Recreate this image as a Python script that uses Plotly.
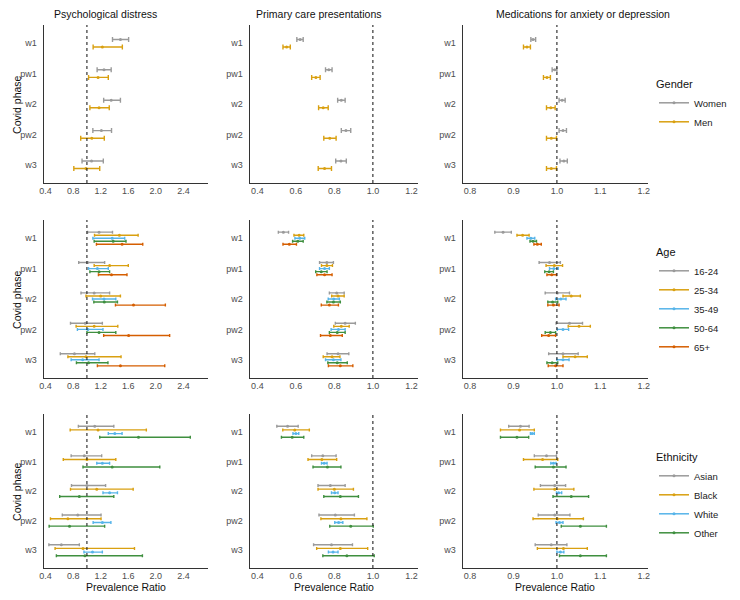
import plotly.graph_objects as go

# ---------------- data ----------------
PHASES = ["w1", "pw1", "w2", "pw2", "w3"]
GENDER = ["Women", "Men"]
AGE = ["16-24", "25-34", "35-49", "50-64", "65+"]
ETHNICITY = ["Asian", "Black", "White", "Other"]
OUTCOMES = ["Psychological distress", "Primary care presentations", "Medications for anxiety or depression"]
X_TICKS = [[0.4, 0.8, 1.2, 1.6, 2.0, 2.4], [0.4, 0.6, 0.8, 1.0, 1.2], [0.8, 0.9, 1.0, 1.1, 1.2]]

# Psychological distress – gender
psych_gender_est = {"Women": [1.486, 1.248, 1.352, 1.21, 1.067], "Men": [1.224, 1.162, 1.176, 1.071, 0.986]}
psych_gender_lo = {"Women": [1.371, 1.148, 1.243, 1.086, 0.929], "Men": [1.09, 1.024, 1.043, 0.91, 0.81]}
psych_gender_hi = {"Women": [1.605, 1.352, 1.486, 1.357, 1.238], "Men": [1.514, 1.31, 1.324, 1.252, 1.186]}
# Primary care – gender
prim_gender_est = {"Women": [0.622, 0.771, 0.836, 0.86, 0.834], "Men": [0.552, 0.704, 0.742, 0.776, 0.749]}
prim_gender_lo = {"Women": [0.605, 0.754, 0.817, 0.836, 0.807], "Men": [0.533, 0.682, 0.718, 0.745, 0.716]}
prim_gender_hi = {"Women": [0.638, 0.788, 0.856, 0.885, 0.862], "Men": [0.571, 0.726, 0.768, 0.809, 0.785]}
# Medications – gender
med_gender_est = {"Women": [0.945, 0.995, 1.012, 1.014, 1.016], "Men": [0.931, 0.977, 0.986, 0.987, 0.987]}
med_gender_lo = {"Women": [0.940, 0.989, 1.005, 1.005, 1.007], "Men": [0.923, 0.969, 0.976, 0.976, 0.976]}
med_gender_hi = {"Women": [0.951, 1.0, 1.019, 1.022, 1.024], "Men": [0.939, 0.985, 0.996, 0.999, 0.999]}

# Psychological distress – age
psych_age_est = {"16-24": [1.176, 1.01, 1.105, 0.976, 0.819], "25-34": [1.471, 1.329, 1.2, 1.105, 0.986],
                 "35-49": [1.367, 1.152, 1.248, 1.014, 0.938], "50-64": [1.381, 1.176, 1.252, 1.176, 1.024],
                 "65+": [1.51, 1.357, 1.676, 1.605, 1.486]}
psych_age_lo = {"16-24": [1.01, 0.881, 0.914, 0.762, 0.614], "25-34": [1.11, 1.105, 0.986, 0.843, 0.724],
                "35-49": [1.086, 1.024, 1.081, 0.862, 0.771], "50-64": [1.105, 1.043, 1.1, 1.0, 0.848],
                "65+": [1.138, 1.167, 1.414, 1.243, 1.152]}
psych_age_hi = {"16-24": [1.371, 1.257, 1.329, 1.224, 1.114], "25-34": [1.743, 1.6, 1.486, 1.448, 1.495],
                "35-49": [1.548, 1.31, 1.419, 1.233, 1.176], "50-64": [1.567, 1.329, 1.443, 1.419, 1.305],
                "65+": [1.81, 1.581, 2.138, 2.2, 2.129]}
# Primary care – age
prim_age_est = {"16-24": [0.535, 0.761, 0.812, 0.856, 0.819], "25-34": [0.617, 0.761, 0.819, 0.836, 0.788],
                "35-49": [0.62, 0.749, 0.797, 0.821, 0.795], "50-64": [0.61, 0.732, 0.795, 0.815, 0.815],
                "65+": [0.566, 0.749, 0.774, 0.779, 0.831]}
prim_age_lo = {"16-24": [0.509, 0.723, 0.774, 0.805, 0.762], "25-34": [0.59, 0.733, 0.786, 0.797, 0.742],
               "35-49": [0.595, 0.723, 0.768, 0.783, 0.754], "50-64": [0.583, 0.703, 0.761, 0.774, 0.766],
               "65+": [0.533, 0.709, 0.732, 0.728, 0.769]}
prim_age_hi = {"16-24": [0.562, 0.795, 0.851, 0.909, 0.875], "25-34": [0.641, 0.79, 0.851, 0.877, 0.829],
               "35-49": [0.646, 0.774, 0.826, 0.856, 0.834], "50-64": [0.638, 0.762, 0.831, 0.856, 0.867],
               "65+": [0.603, 0.788, 0.821, 0.841, 0.896]}
# Medications – age
med_age_est = {"16-24": [0.876, 0.983, 1.001, 1.029, 1.014], "25-34": [0.921, 0.994, 1.033, 1.051, 1.042],
               "35-49": [0.94, 0.993, 1.009, 1.014, 1.014], "50-64": [0.945, 0.982, 0.99, 0.985, 0.989],
               "65+": [0.955, 0.988, 0.992, 0.981, 0.997]}
med_age_lo = {"16-24": [0.857, 0.959, 0.973, 0.998, 0.981], "25-34": [0.908, 0.975, 1.014, 1.026, 1.014],
              "35-49": [0.931, 0.983, 0.997, 1.001, 1.0], "50-64": [0.938, 0.972, 0.979, 0.973, 0.977],
              "65+": [0.947, 0.977, 0.979, 0.965, 0.98]}
med_age_hi = {"16-24": [0.895, 1.008, 1.029, 1.059, 1.049], "25-34": [0.936, 1.013, 1.054, 1.077, 1.07],
              "35-49": [0.949, 1.003, 1.021, 1.027, 1.028], "50-64": [0.953, 0.992, 1.002, 0.997, 1.002],
              "65+": [0.964, 0.999, 1.005, 0.997, 1.014]}

# Psychological distress – ethnicity
psych_eth_est = {"Asian": [1.114, 0.962, 1.0, 0.867, 0.629], "Black": [1.162, 1.0, 1.143, 0.724, 0.943],
                 "White": [1.405, 1.224, 1.329, 1.224, 1.081], "Other": [1.748, 1.367, 0.89, 0.748, 0.971]}
psych_eth_lo = {"Asian": [0.876, 0.771, 0.776, 0.643, 0.448], "Black": [0.757, 0.657, 0.762, 0.471, 0.538],
                "White": [1.31, 1.143, 1.233, 1.09, 0.957], "Other": [1.186, 0.943, 0.605, 0.452, 0.557]}
psych_eth_hi = {"Asian": [1.39, 1.214, 1.271, 1.205, 0.89], "Black": [1.862, 1.419, 1.671, 1.205, 1.69],
                "White": [1.51, 1.329, 1.443, 1.348, 1.224], "Other": [2.5, 2.057, 1.39, 1.257, 1.805]}
# Primary care – ethnicity
prim_eth_est = {"Asian": [0.557, 0.74, 0.779, 0.805, 0.785], "Black": [0.594, 0.735, 0.8, 0.834, 0.831],
                "White": [0.6, 0.747, 0.802, 0.822, 0.793], "Other": [0.581, 0.764, 0.831, 0.885, 0.865]}
prim_eth_lo = {"Asian": [0.501, 0.682, 0.715, 0.72, 0.692], "Black": [0.532, 0.663, 0.715, 0.73, 0.708],
               "White": [0.585, 0.733, 0.785, 0.802, 0.769], "Other": [0.525, 0.689, 0.745, 0.776, 0.74]}
prim_eth_hi = {"Asian": [0.612, 0.809, 0.856, 0.904, 0.894], "Black": [0.67, 0.812, 0.899, 0.969, 0.973],
               "White": [0.615, 0.762, 0.819, 0.844, 0.819], "Other": [0.641, 0.834, 0.925, 1.002, 1.007]}
# Medications – ethnicity
med_eth_est = {"Asian": [0.916, 0.976, 0.995, 0.995, 0.987], "Black": [0.914, 0.967, 0.995, 1.001, 1.015],
               "White": [0.943, 0.992, 1.004, 1.006, 1.008], "Other": [0.908, 0.992, 1.033, 1.054, 1.054]}
med_eth_lo = {"Asian": [0.889, 0.948, 0.962, 0.957, 0.95], "Black": [0.87, 0.923, 0.947, 0.945, 0.955],
              "White": [0.939, 0.986, 0.999, 0.998, 1.0], "Other": [0.87, 0.95, 0.991, 1.01, 1.006]}
med_eth_hi = {"Asian": [0.936, 0.999, 1.02, 1.03, 1.023], "Black": [0.948, 1.002, 1.039, 1.061, 1.07],
              "White": [0.948, 0.998, 1.011, 1.014, 1.016], "Other": [0.935, 1.021, 1.073, 1.114, 1.114]}

# ---------------- styling / layout ----------------
OFF = 8                       # default page margin around the plot div
W, H = 740 - 2 * OFF, 600 - 2 * OFF
GRAY, GOLD, BLUE, GREEN, ORANGE = "#9a9a9a", "#D9A010", "#56B4E9", "#3f8f3f", "#D55E00"
COLORS = {"Women": GRAY, "Men": GOLD,
          "16-24": GRAY, "25-34": GOLD, "35-49": BLUE, "50-64": GREEN, "65+": ORANGE,
          "Asian": GRAY, "Black": GOLD, "White": BLUE, "Other": GREEN}
FONT = "Liberation Sans, Arial, sans-serif"

# page pixel positions
COL_PX = [(40, 207), (249, 420), (465, 653)]
ROW_PX = [(25, 183), (220, 378), (414, 568)]
X_RANGES = [[0.371, 2.76], [0.36, 1.236], [0.783, 1.21]]
LEGEND_TOP_PX = [74, 242, 447]
LEGEND_X_PX = 659


def px(x):
    return (x - OFF) / W


def py(y):
    return 1 - (y - OFF) / H


ROWS = [
    ("Gender", GENDER, [(psych_gender_est, psych_gender_lo, psych_gender_hi),
                        (prim_gender_est, prim_gender_lo, prim_gender_hi),
                        (med_gender_est, med_gender_lo, med_gender_hi)], 2.5),
    ("Age", AGE, [(psych_age_est, psych_age_lo, psych_age_hi),
                  (prim_age_est, prim_age_lo, prim_age_hi),
                  (med_age_est, med_age_lo, med_age_hi)], 1.5),
    ("Ethnicity", ETHNICITY, [(psych_eth_est, psych_eth_lo, psych_eth_hi),
                              (prim_eth_est, prim_eth_lo, prim_eth_hi),
                              (med_eth_est, med_eth_lo, med_eth_hi)], 1.5),
]

fig = go.Figure()
layout = {}
shapes = []
annotations = []
DODGE = 0.5
TICKFONT = dict(size=9, color="#4d4d4d", family=FONT)

for r, (gname, groups, panels, cap) in enumerate(ROWS):
    n = len(groups)
    for c, (est, lo, hi) in enumerate(panels):
        k = r * 3 + c + 1
        xa = "x" if k == 1 else f"x{k}"
        ya = "y" if k == 1 else f"y{k}"
        for i, g in enumerate(groups):
            ypos = [p + (i - (n - 1) / 2) * DODGE / n for p in range(len(PHASES))]
            fig.add_trace(go.Scatter(
                x=est[g], y=ypos, mode="markers",
                marker=dict(size=3, color=COLORS[g]),
                error_x=dict(type="data", symmetric=False,
                             array=[h - e for h, e in zip(hi[g], est[g])],
                             arrayminus=[e - l for e, l in zip(est[g], lo[g])],
                             color=COLORS[g], thickness=1.4, width=cap),
                xaxis=xa, yaxis=ya, showlegend=False, hoverinfo="skip"))
        x0, x1 = COL_PX[c]
        y0, y1 = ROW_PX[r]
        layout["xaxis" if k == 1 else f"xaxis{k}"] = dict(
            domain=[px(x0), px(x1)], anchor=ya, range=X_RANGES[c],
            tickvals=X_TICKS[c], tickformat=".1f", showgrid=False, zeroline=False,
            showline=True, linecolor="#333333", linewidth=1.1, ticks="", ticklen=0,
            tickfont=TICKFONT, ticklabelstandoff=-1)
        layout["yaxis" if k == 1 else f"yaxis{k}"] = dict(
            domain=[py(y1), py(y0)], anchor=xa, range=[4.6, -0.6],
            tickvals=list(range(len(PHASES))), ticktext=PHASES, showgrid=False, zeroline=False,
            showline=True, linecolor="#333333", linewidth=1.1, ticks="", ticklen=0,
            tickfont=TICKFONT, ticklabelstandoff=4)
        shapes.append(dict(type="line", xref=xa, yref=f"{ya} domain", x0=1, x1=1, y0=0, y1=1,
                           line=dict(color="#222222", width=1.1, dash="dot")))
    # legend entries for this row
    lg = "legend" if r == 0 else f"legend{r + 1}"
    kk = r * 3 + 3
    for g in groups:
        fig.add_trace(go.Scatter(x=[None], y=[None], mode="lines+markers", name=g,
                                 line=dict(color=COLORS[g], width=1.5), marker=dict(size=3, color=COLORS[g]),
                                 xaxis=f"x{kk}", yaxis=f"y{kk}", legend=lg, showlegend=True))
    layout[lg] = dict(x=px(LEGEND_X_PX), y=py(LEGEND_TOP_PX[r]), xanchor="left", yanchor="top",
                      title=dict(text=gname, font=dict(size=11, color="#111111", family=FONT)),
                      font=dict(size=9.5, color="#222222", family=FONT), bgcolor="rgba(0,0,0,0)",
                      tracegroupgap=0)
    # row y-axis title
    yc = (ROW_PX[r][0] + ROW_PX[r][1]) / 2
    annotations.append(dict(text="Covid phase", xref="paper", yref="paper", x=px(13), y=py(yc),
                            textangle=-90, showarrow=False, xanchor="center", yanchor="middle",
                            font=dict(size=10.5, color="#111111", family=FONT)))

TITLE_X = [103, 319, 587]
for c, t in enumerate(OUTCOMES):
    annotations.append(dict(text=t, xref="paper", yref="paper", x=px(TITLE_X[c]), y=py(14),
                            showarrow=False, xanchor="center", yanchor="middle",
                            font=dict(size=10.5, color="#111111", family=FONT)))
    xc = (COL_PX[c][0] + COL_PX[c][1]) / 2
    annotations.append(dict(text="Prevalence Ratio", xref="paper", yref="paper", x=px(xc), y=py(587),
                            showarrow=False, xanchor="center", yanchor="middle",
                            font=dict(size=10.5, color="#111111", family=FONT)))

fig.update_layout(width=W, height=H, margin=dict(l=0, r=0, t=0, b=0),
                  paper_bgcolor="white", plot_bgcolor="white",
                  font=dict(family=FONT), shapes=shapes, annotations=annotations, **layout)
fig.write_html("out.html")
